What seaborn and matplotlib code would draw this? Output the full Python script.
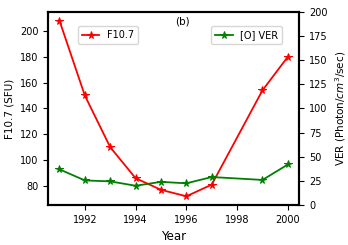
import pandas as pd
import seaborn as sns
from matplotlib import pyplot as plt

years = [1991, 1992, 1993, 1994, 1995, 1996, 1997, 1999, 2000]
f107 = [208, 150, 110, 86, 77, 72, 81, 154, 180]
ver = [37, 25.5, 24.5, 20, 24, 22.5, 29, 26, 42]

df = pd.DataFrame({"Year": years, "F10.7": f107, "VER": ver})

plt.rcParams["font.size"] = 7
fig, ax1 = plt.subplots(figsize=(3.48, 2.45), dpi=100)
fig.subplots_adjust(left=0.138, right=0.86, top=0.952, bottom=0.163)

sns.lineplot(data=df, x="Year", y="F10.7", color="red", marker="*",
             markersize=5.5, markeredgecolor="red", linewidth=1.3,
             label="F10.7", ax=ax1)
ax1.set_ylabel("F10.7 (SFU)", fontsize=7.5)
ax1.set_xlabel("Year", fontsize=8.5)
ax1.set_xticks([1992, 1994, 1996, 1998, 2000])
ax1.legend(loc="upper left", bbox_to_anchor=(0.1, 0.95), fontsize=7,
           handlelength=1.8, borderpad=0.4)

ax2 = ax1.twinx()
sns.lineplot(data=df, x="Year", y="VER", color="green", marker="*",
             markersize=5.5, markeredgecolor="green", linewidth=1.3,
             label="[O] VER", ax=ax2)
ax2.set_ylim(0, 200)
ax2.set_ylabel("VER (Photon/$cm^3$/sec)", fontsize=7.5)
ax2.legend(loc="upper left", bbox_to_anchor=(0.63, 0.95), fontsize=7,
           handlelength=1.8, borderpad=0.4)

ax1.text(0.535, 0.975, "(b)", transform=ax1.transAxes, ha="center", va="top", fontsize=7.5)

for a in (ax1, ax2):
    for s in a.spines.values():
        s.set_linewidth(1.5)

fig.savefig("out.png")
